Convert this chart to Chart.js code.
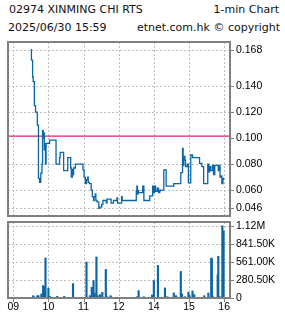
<!DOCTYPE html>
<html>
<head>
<meta charset="utf-8">
<script src="https://cdn.jsdelivr.net/npm/chart.js@4.4.0/dist/chart.umd.min.js"></script>
<style>
  html, body { margin: 0; padding: 0; background: #fff; }
  body { width: 285px; height: 318px; position: relative; overflow: hidden;
         font-family: 'DejaVu Sans', sans-serif; font-size: 11px; color: #111; }
  .hd { position: absolute; left: 0; width: 285px; height: 14px; line-height: 14px; white-space: nowrap; }
  .hd span { position: absolute; }
  #price { position: absolute; left: 0; top: 36px; }
  #vol { position: absolute; left: 0; top: 218px; }
</style>
</head>
<body>
<div class="hd" style="top:3px"><span style="left:9px">02974 XINMING CHI RTS</span><span style="right:6px">1-min Chart</span></div>
<div class="hd" style="top:21px"><span style="left:8px">2025/06/30 15:59</span><span style="right:5px">etnet.com.hk © copyright</span></div>
<canvas id="price" width="285" height="182"></canvas>
<canvas id="vol" width="285" height="100"></canvas>
<script>
// price changes, 1-min chart
const priceTimes = ['09:30','09:31','09:33','09:34','09:36','09:38','09:41','09:43','09:45','09:47','09:49','09:50','09:51','09:52','09:53','09:54','09:55','09:56',
  '10:02','10:13','10:19','10:20','10:26','10:33','10:38','10:39','10:41','10:42','10:43','10:46','10:59',
  '11:01','11:03','11:05','11:07','11:08','11:10','11:13','11:15','11:17','11:18','11:20','11:21','11:23','11:26','11:27','11:31','11:33','11:39','11:40','11:47','11:51','11:57','11:58',
  '13:05','13:06','13:30','13:31','13:32','13:33','13:34','13:41','13:43','13:53','13:58','13:59',
  '14:01','14:03','14:06','14:08','14:10','14:11','14:17','14:21','14:34','14:46','14:49','14:50','14:51','14:53','14:54','14:57','14:59',
  '15:03','15:06','15:18','15:22','15:25','15:32','15:34','15:35','15:37','15:40','15:42','15:44','15:50','15:51','15:53','15:54','15:56','15:58','15:59'];
const prices = [0.168,0.160,0.147,0.1435,0.125,0.120,0.110,0.069,0.066,0.073,0.080,0.106,0.100,0.104,0.091,0.096,0.080,0.096,
  0.0985,0.080,0.085,0.089,0.075,0.085,0.077,0.070,0.076,0.072,0.077,0.080,0.0755,
  0.070,0.065,0.068,0.070,0.066,0.065,0.060,0.055,0.052,0.055,0.057,0.052,0.051,0.046,0.047,0.049,0.052,0.050,0.053,0.050,0.052,0.054,0.050,
  0.055,0.052,0.0595,0.063,0.057,0.0595,0.058,0.063,0.052,0.0555,0.063,0.058,
  0.063,0.059,0.0615,0.058,0.0595,0.060,0.0755,0.063,0.065,0.0735,0.092,0.079,0.086,0.083,0.078,0.080,0.0655,
  0.087,0.085,0.0805,0.078,0.065,0.080,0.074,0.078,0.075,0.079,0.072,0.079,0.075,0.079,0.070,0.071,0.065,0.069,0.068];
const prevClose = 0.1015;

const volTimes = ['09:31','09:34','09:35','09:41','09:43','09:48','09:51','09:53','09:55','10:00','10:02','10:15','10:27','10:40','10:42','10:48',
  '11:05','11:09','11:11','11:14','11:17','11:19','11:22','11:24','11:28','11:32','11:38','11:40','11:46','11:47','11:57',
  '13:07','13:31','13:34','13:43','13:54','13:57','14:00','14:07','14:16','14:19','14:23','14:34','14:38','14:46','14:48','14:53','14:59',
  '15:01','15:06','15:09','15:26','15:33','15:38','15:39','15:41','15:45','15:47','15:49','15:50','15:53','15:57','15:59'];
const volumes = [10000,36000,20000,36000,36000,63000,193000,177000,621000,151000,26000,26000,26000,10000,224000,10000,
  558000,10000,36000,167000,271000,73000,637000,36000,52000,89000,444000,20000,36000,20000,10000,
  10000,20000,115000,20000,10000,47000,271000,506000,10000,156000,20000,78000,36000,412000,63000,20000,89000,
  36000,110000,52000,36000,78000,621000,605000,20000,10000,10000,360000,647000,20000,1122000,1040000];

const hourTicks = [0, 60, 120, 180, 240, 300, 360];
const hourLabels = ['09', '10', '11', '12', '14', '15', '16'];
const priceTicks = [0.046, 0.060, 0.080, 0.100, 0.120, 0.140, 0.168];
const volTicks = [0, 280500, 561000, 841500, 1122000];
const volLabels = ['0', '280.50K', '561.00K', '841.50K', '1.12M'];

// minutes since 09:00 with the lunch break cut out
function toIdx(t) {
  const [h, m] = t.split(':').map(Number);
  const mins = h * 60 + m;
  return mins >= 13 * 60 ? mins - 13 * 60 + 180 : mins - 9 * 60;
}

const tickFont = { family: "'Liberation Sans', Arial, sans-serif", size: 10.5 };
const GRID = '#bdbdbd';
const FRAME = '#808080';
const BLUE = '#0b66a8';

// dashed grid, outer tick marks and the grey frame
const frame = {
  id: 'frame',
  beforeDatasetsDraw(chart, args, opts) {
    const { ctx, chartArea: a, scales: { x, y } } = chart;
    ctx.save();
    ctx.lineWidth = 1;
    ctx.strokeStyle = GRID;
    ctx.setLineDash([2, 2]);
    x.ticks.forEach(t => {
      const px = Math.round(x.getPixelForValue(t.value)) + 0.5;
      ctx.beginPath(); ctx.moveTo(px, a.top); ctx.lineTo(px, a.bottom); ctx.stroke();
    });
    y.ticks.forEach(t => {
      if (t.value === opts.skip) return;
      const py = Math.round(y.getPixelForValue(t.value)) + 0.5;
      ctx.beginPath(); ctx.moveTo(a.left, py); ctx.lineTo(a.right, py); ctx.stroke();
    });
    ctx.setLineDash([]);
    ctx.strokeStyle = FRAME;
    y.ticks.forEach(t => {
      const py = Math.round(y.getPixelForValue(t.value)) + 0.5;
      ctx.beginPath(); ctx.moveTo(a.right, py); ctx.lineTo(a.right + 4, py); ctx.stroke();
    });
    if (opts.xMarks) {
      x.ticks.forEach(t => {
        const px = Math.round(x.getPixelForValue(t.value)) + 0.5;
        ctx.beginPath(); ctx.moveTo(px, a.bottom); ctx.lineTo(px, a.bottom + 4); ctx.stroke();
      });
    }
    ctx.restore();
  },
  afterDraw(chart) {
    const { ctx, chartArea: a } = chart;
    ctx.save();
    ctx.strokeStyle = FRAME;
    ctx.lineWidth = 2;
    ctx.strokeRect(a.left, a.top, a.right - a.left, a.bottom - a.top);
    ctx.restore();
  }
};

function xScale(showLabels) {
  return {
    type: 'linear', min: -9, max: 370, offset: false,
    border: { display: false },
    afterBuildTicks: s => { s.ticks = hourTicks.map(v => ({ value: v })); },
    afterFit: s => { s.height = showLabels ? 20 : 0; s.paddingLeft = 0; s.paddingRight = 0; },
    grid: { display: false, drawTicks: false, offset: false },
    ticks: {
      display: showLabels, padding: 3, color: '#000', font: tickFont, maxRotation: 0, autoSkip: false,
      callback: v => hourLabels[hourTicks.indexOf(v)]
    }
  };
}

function yScale(min, max, ticks, fmt) {
  return {
    position: 'right', min: min, max: max,
    border: { display: false },
    afterBuildTicks: s => { s.ticks = ticks.map(v => ({ value: v })); },
    afterFit: s => { s.width = 55; s.paddingTop = 0; s.paddingBottom = 0; },
    grid: { display: false, drawTicks: false },
    ticks: { padding: 6, color: '#000', font: tickFont, autoSkip: false, callback: fmt }
  };
}

new Chart(document.getElementById('price'), {
  type: 'line',
  data: {
    datasets: [{
      data: priceTimes.map((t, i) => ({ x: toIdx(t), y: prices[i] })),
      borderColor: BLUE, borderWidth: 1.3, stepped: true, pointRadius: 0, fill: false
    }, {
      data: [{ x: -9, y: prevClose }, { x: 370, y: prevClose }],
      borderColor: '#e01b7c', borderWidth: 1.3, pointRadius: 0, fill: false
    }]
  },
  options: {
    responsive: false, animation: false, devicePixelRatio: 1,
    layout: { padding: { left: 8, top: 6, bottom: 2, right: 0 } },
    plugins: { legend: { display: false }, tooltip: { enabled: false }, frame: { skip: 0.1 } },
    scales: {
      x: xScale(false),
      y: yScale(0.0401, 0.1739, priceTicks, v => v.toFixed(3))
    }
  },
  plugins: [frame]
});

new Chart(document.getElementById('vol'), {
  type: 'bar',
  data: {
    datasets: [{
      data: volTimes.map((t, i) => ({ x: toIdx(t), y: volumes[i] })),
      backgroundColor: BLUE, barThickness: 1.5
    }]
  },
  options: {
    responsive: false, animation: false, devicePixelRatio: 1,
    layout: { padding: { left: 8, top: 4, bottom: 0, right: 0 } },
    plugins: { legend: { display: false }, tooltip: { enabled: false }, frame: { xMarks: true } },
    scales: {
      x: xScale(true),
      y: yScale(0, 1180000, volTicks, v => volLabels[volTicks.indexOf(v)])
    }
  },
  plugins: [frame]
});
</script>
</body>
</html>
